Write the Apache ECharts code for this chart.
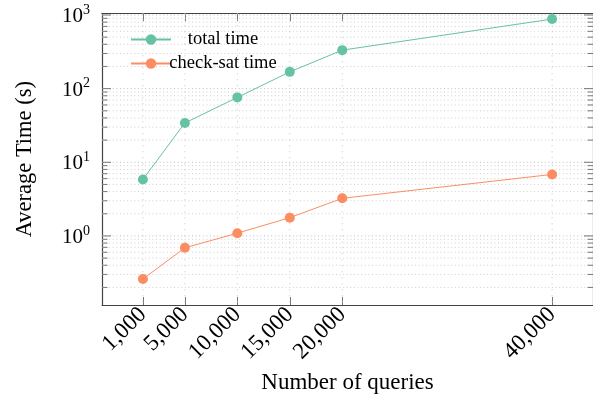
<!DOCTYPE html>
<html><head><meta charset="utf-8">
<script src="https://cdn.jsdelivr.net/npm/echarts@6/dist/echarts.min.js"></script>
<style>html,body{margin:0;padding:0;background:#fff}#c{width:593px;height:399px}</style>
</head><body><div id="c"></div>
<script>
// ---- data ----
const queries = [1000, 5000, 10000, 15000, 20000, 40000];
const totalTime = [5.85, 34.2, 76, 169, 333, 880];
const checkSatTime = [0.26, 0.69, 1.09, 1.77, 3.24, 6.84];
const seriesNames = ['total time', 'check-sat time'];
const xTitle = 'Number of queries';
const yTitle = 'Average Time (s)';

// ---- axis extents (enlarged like pgfplots) ----
const xMin = -2900, xMax = 43900;
const yMin = 0.1154, yMax = 1054;
const decades = [-1, 0, 1, 2, 3];
const majorY = [], minorY = [];
decades.forEach(d => {
  const b = Math.pow(10, d);
  if (b >= yMin && b <= yMax) majorY.push(b);
  for (let k = 2; k <= 9; k++) { const v = k * b; if (v >= yMin && v <= yMax) minorY.push(v); }
});

const FONT = 'Liberation Serif';
const green = '#66c2a5', orange = '#fc8d62';

function fmtX(v) { return String(v).replace(/\B(?=(\d{3})+(?!\d))/g, ','); }
function fmtY(v) {
  const l = Math.log10(v), e = Math.round(l);
  if (Math.abs(l - e) > 1e-6) return '';
  return '{b|10}{s|' + e + '}';
}

function hLines(values, dash, color, tickLen) {
  return {
    type: 'custom', silent: true, z: 1, animation: false,
    data: values.map(v => [xMin, v]),
    renderItem: function (params, api) {
      const cs = params.coordSys;
      const y = api.coord([xMin, api.value(1)])[1];
      const children = [{
        type: 'line', shape: { x1: cs.x, y1: y, x2: cs.x + cs.width, y2: y },
        style: { stroke: color, lineWidth: 1, lineDash: dash }
      }];
      if (tickLen) {
        children.push({ type: 'line', shape: { x1: cs.x, y1: y, x2: cs.x + tickLen, y2: y },
          style: { stroke: '#777', lineWidth: 1 } });
        children.push({ type: 'line', shape: { x1: cs.x + cs.width - tickLen, y1: y, x2: cs.x + cs.width, y2: y },
          style: { stroke: '#777', lineWidth: 1 } });
      }
      return { type: 'group', children: children };
    }
  };
}
function vLines(values, dash, color) {
  return {
    type: 'custom', silent: true, z: 1, animation: false,
    data: values.map(v => [v, yMin]),
    renderItem: function (params, api) {
      const cs = params.coordSys;
      const x = api.coord([api.value(0), yMin])[0];
      return { type: 'line', shape: { x1: x, y1: cs.y, x2: x, y2: cs.y + cs.height },
        style: { stroke: color, lineWidth: 1, lineDash: dash } };
    }
  };
}

const chart = echarts.init(document.getElementById('c'), null, { renderer: 'canvas' });
const axisLine = { show: true, onZero: false, lineStyle: { color: '#444', width: 1.2 } };
chart.setOption({
  animation: false,
  backgroundColor: '#fff',
  textStyle: { fontFamily: FONT },
  grid: { left: 102, top: 13.3, right: -3, bottom: 93, containLabel: false },
  legend: {
    orient: 'vertical', left: 125, top: 25, itemWidth: 40, itemHeight: 13, itemGap: 5,
    data: seriesNames,
    formatter: n => '{c|' + n + '}',
    textStyle: { fontFamily: FONT, fontSize: 18.5, color: '#000', lineHeight: 14, padding: [0, 0, 0, 0],
      rich: { c: { width: 94, align: 'center', fontSize: 18.5, fontFamily: FONT, color: '#000', lineHeight: 14 } } }
  },
  xAxis: [{
    type: 'value', min: xMin, max: xMax, position: 'bottom',
    name: xTitle, nameLocation: 'middle', nameGap: 66,
    nameTextStyle: { fontFamily: FONT, fontSize: 23, color: '#000' },
    axisLine: axisLine,
    axisTick: { show: true, inside: true, length: 8, customValues: queries, lineStyle: { color: '#777' } },
    axisLabel: { show: true, customValues: queries, rotate: 45, margin: 6, formatter: fmtX,
      fontFamily: FONT, fontSize: 23, color: '#000' },
    splitLine: { show: false }
  }, {
    type: 'value', min: xMin, max: xMax, position: 'top',
    axisLine: axisLine,
    axisTick: { show: true, inside: true, length: 8, customValues: queries, lineStyle: { color: '#777' } },
    axisLabel: { show: false }, splitLine: { show: false }
  }],
  yAxis: [{
    type: 'log', logBase: 10, min: yMin, max: yMax, position: 'left',
    name: yTitle, nameLocation: 'middle', nameGap: 65, nameRotate: 90,
    nameTextStyle: { fontFamily: FONT, fontSize: 22.5, color: '#000' },
    axisLine: axisLine,
    axisTick: { show: false },
    axisLabel: { show: true, margin: 12, formatter: fmtY, showMinLabel: false, showMaxLabel: false,
      rich: { b: { fontFamily: FONT, fontSize: 21, color: '#000', verticalAlign: 'bottom' },
              s: { fontFamily: FONT, fontSize: 14, color: '#000', verticalAlign: 'top', padding: [0, 0, 10, 0] } } },
    splitLine: { show: false }
  }, {
    type: 'log', logBase: 10, min: yMin, max: yMax, position: 'right',
    axisLine: axisLine, axisTick: { show: false }, axisLabel: { show: false }, splitLine: { show: false }
  }],
  series: [
    hLines(minorY, [1, 2.6], '#cfcfcf', 5.5),
    hLines(majorY, [1, 2.6], '#bdbdbd', 9),
    vLines(queries, [1, 5], '#c4c4c4'),
    {
      name: seriesNames[0], type: 'line', z: 3,
      data: queries.map((q, i) => [q, totalTime[i]]),
      symbol: 'circle', symbolSize: 10, showSymbol: true,
      lineStyle: { color: green, width: 1 }, itemStyle: { color: green }
    },
    {
      name: seriesNames[1], type: 'line', z: 3,
      data: queries.map((q, i) => [q, checkSatTime[i]]),
      symbol: 'circle', symbolSize: 10, showSymbol: true,
      lineStyle: { color: orange, width: 1 }, itemStyle: { color: orange }
    }
  ]
});
</script></body></html>
